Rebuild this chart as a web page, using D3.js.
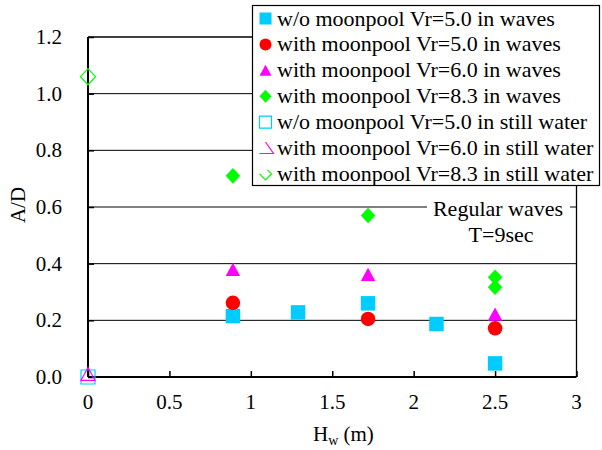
<!DOCTYPE html>
<html><head><meta charset="utf-8">
<script src="https://cdn.jsdelivr.net/npm/d3@7"></script>
<style>body{margin:0;background:#fff}svg{display:block}</style>
</head><body><svg id="c" width="602" height="450"></svg>
<script>
// ---- data ----
const xTicks = [0, 0.5, 1, 1.5, 2, 2.5, 3];
const yTicks = [0, 0.2, 0.4, 0.6, 0.8, 1.0, 1.2];
const hwWo5 = [0.89, 1.29, 1.72, 2.14, 2.5];
const adWo5 = [0.215, 0.228, 0.26, 0.187, 0.048];
const hwW5 = [0.89, 1.72, 2.5];
const adW5 = [0.262, 0.205, 0.172];
const hwW6 = [0.89, 1.72, 2.5];
const adW6 = [0.38, 0.362, 0.222];
const hwW83 = [0.89, 1.72, 2.5, 2.5];
const adW83 = [0.71, 0.57, 0.352, 0.317];
const hwSWo5 = [0];
const adSWo5 = [0.0];
const hwSW6 = [0];
const adSW6 = [0.011];
const hwSW83 = [0];
const adSW83 = [1.06];
const seriesNames = [
  "w/o moonpool Vr=5.0 in waves",
  "with moonpool Vr=5.0 in waves",
  "with moonpool Vr=6.0 in waves",
  "with moonpool Vr=8.3 in waves",
  "w/o moonpool Vr=5.0 in still water",
  "with moonpool Vr=6.0 in still water",
  "with moonpool Vr=8.3 in still water"
];

const FONT = "Liberation Serif";
const svg = d3.select("#c");
const L = 88, R = 576.5, T = 37, B = 377;
const x = d3.scaleLinear().domain([0, 3]).range([L, R]);
const y = d3.scaleLinear().domain([0, 1.2]).range([B, T]);

const sq = {draw(c, s){const h=s/2;c.moveTo(-h,-h);c.lineTo(h,-h);c.lineTo(h,h);c.lineTo(-h,h);c.closePath();}};
const tri = {draw(c, s){const h=s/2, v=s*0.46;c.moveTo(0,-v);c.lineTo(h,v);c.lineTo(-h,v);c.closePath();}};
const dia = {draw(c, s){const h=s/2, v=s*0.54;c.moveTo(0,-v);c.lineTo(h,0);c.lineTo(0,v);c.lineTo(-h,0);c.closePath();}};
const circ = {draw(c, s){c.moveTo(s/2,0);c.arc(0,0,s/2,0,2*Math.PI);}};

const cyan = "#00CCFF", red = "#FF0000", mag = "#FF00FF", green = "#00FF00";

function txt(sel){ return sel.style("font-family", FONT).attr("fill", "#000"); }

svg.append("g").selectAll("line").data(yTicks.filter(d => d > 0 && d < 1.2)).join("line")
  .attr("x1", L).attr("x2", R).attr("y1", d => y(d)).attr("y2", d => y(d))
  .attr("stroke", "#000").attr("stroke-width", 1);

svg.append("line").attr("x1", L).attr("x2", R).attr("y1", T).attr("y2", T).attr("stroke", "#000").attr("stroke-width", 1.3);
svg.append("line").attr("x1", R).attr("x2", R).attr("y1", T).attr("y2", B).attr("stroke", "#000").attr("stroke-width", 1.3);

const yAxis = d3.axisRight(y).tickValues(yTicks).tickSize(6).tickFormat("");
const gy = svg.append("g").attr("transform", `translate(${L},0)`).call(yAxis);
const xAxis = d3.axisTop(x).tickValues(xTicks).tickSize(6).tickFormat("");
const gx = svg.append("g").attr("transform", `translate(0,${B})`).call(xAxis);
[gy, gx].forEach(g => { g.select(".domain").attr("stroke", "#000").attr("stroke-width", 2); g.selectAll(".tick line").attr("stroke", "#000").attr("stroke-width", 1.5); });
gx.select(".domain").attr("d", `M${L},0H${R}`);
gy.select(".domain").attr("d", `M0,${B}V${T}`);

svg.append("g").selectAll("text").data(yTicks).join("text")
  .attr("x", 62).attr("y", d => y(d) + 7).attr("text-anchor", "end").attr("font-size", 21)
  .call(txt).text(d => d.toFixed(1));
svg.append("g").selectAll("text").data(xTicks).join("text")
  .attr("x", d => x(d)).attr("y", 409).attr("text-anchor", "middle").attr("font-size", 21)
  .call(txt).text(d => d3.format("")(d));

svg.append("text").attr("transform", "translate(25,205) rotate(-90)").attr("text-anchor", "middle").attr("font-size", 21).call(txt).text("A/D");
const xt = svg.append("text").attr("x", 313).attr("y", 441).attr("font-size", 21).call(txt);
xt.append("tspan").text("H");
xt.append("tspan").attr("font-size", 14).attr("dy", 4).text("w");
xt.append("tspan").attr("dy", -4).text(" (m)");

svg.append("rect").attr("x", 427).attr("y", 196).attr("width", 143).attr("height", 50).attr("fill", "#fff");
svg.append("text").attr("x", 498).attr("y", 216).attr("text-anchor", "middle").attr("font-size", 22).call(txt).text("Regular waves");
svg.append("text").attr("x", 501).attr("y", 242).attr("text-anchor", "middle").attr("font-size", 22).call(txt).text("T=9sec");

function plot(hw, ad, type, size, color, filled) {
  svg.append("g").selectAll("path").data(hw.map((h, i) => [h, ad[i]])).join("path")
    .attr("transform", d => `translate(${x(d[0])},${y(d[1])})`)
    .attr("d", d3.symbol().type(type).size(size))
    .attr("fill", filled ? color : "none")
    .attr("stroke", color).attr("stroke-width", filled ? 0 : 1.2);
}
plot(hwSWo5, adSWo5, sq, 14, cyan, false);
plot(hwSW6, adSW6, tri, 14, mag, false);
plot(hwSW83, adSW83, dia, 15, green, false);
plot(hwWo5, adWo5, sq, 14.5, cyan, true);
plot(hwW83, adW83, dia, 14.5, green, true);
plot(hwW6, adW6, tri, 14.5, mag, true);
plot(hwW5, adW5, circ, 14.5, red, true);

const lg = svg.append("g");
lg.append("rect").attr("x", 252.5).attr("y", 5.5).attr("width", 347).attr("height", 180).attr("fill", "#fff").attr("stroke", "#000").attr("stroke-width", 1.2);
const rowY = i => 18.5 + i * 25.9;
const mx = 265.5;
lg.selectAll("text").data(seriesNames).join("text")
  .attr("x", 277).attr("y", (d, i) => rowY(i) + 7).attr("font-size", 22).call(txt).text(d => d);
const legSym = [[sq, cyan, true], [circ, red, true], [tri, mag, true], [dia, green, true], [sq, cyan, false]];
legSym.forEach((s, i) => {
  lg.append("path").attr("transform", `translate(${mx},${rowY(i)})`)
    .attr("d", d3.symbol().type(s[0]).size(12)())
    .attr("fill", s[2] ? s[1] : "none").attr("stroke", s[1]).attr("stroke-width", s[2] ? 0 : 1.2);
});
const t5 = rowY(5), t6 = rowY(6);
lg.append("path").attr("d", `M${mx},${t5-6}L${mx+8},${t5+5.5}L${mx-6},${t5+5.5}`)
  .attr("fill", "none").attr("stroke", mag).attr("stroke-width", 1.2);
lg.append("path").attr("d", `M${mx-6},${t6}L${mx},${t6+6}L${mx+6},${t6}L${mx+2},${t6-4}`)
  .attr("fill", "none").attr("stroke", green).attr("stroke-width", 1.2);
</script></body></html>
